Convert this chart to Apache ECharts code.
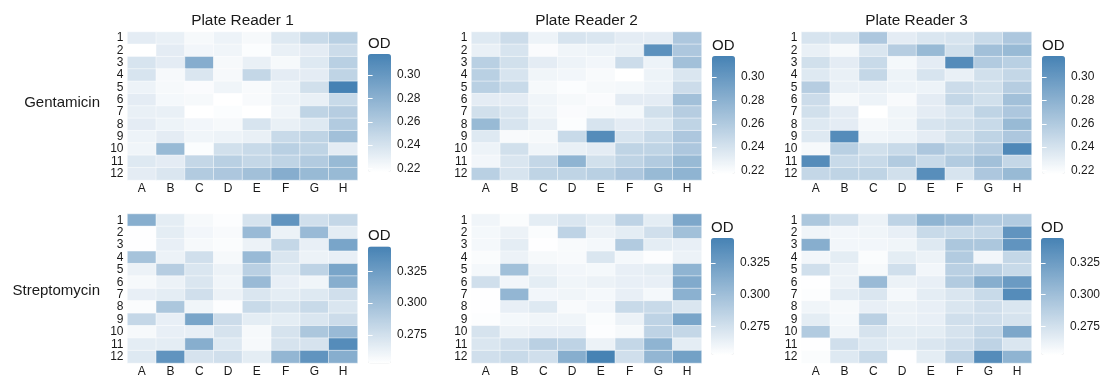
<!DOCTYPE html>
<html>
<head>
<meta charset="utf-8">
<script src="https://cdn.jsdelivr.net/npm/echarts@6/dist/echarts.min.js"></script>
<style>
  html, body { margin: 0; padding: 0; background: #ffffff; }
  #chart { width: 1103px; height: 379px; }
</style>
</head>
<body>
<div id="chart"></div>
<script>
// Plate layout
const columns = ['A', 'B', 'C', 'D', 'E', 'F', 'G', 'H'];
const rows = ['1', '2', '3', '4', '5', '6', '7', '8', '9', '10', '11', '12'];
const readers = ['Plate Reader 1', 'Plate Reader 2', 'Plate Reader 3'];
const antibiotics = ['Gentamicin', 'Streptomycin'];

// Colour-scale limits and legend ticks (OD)
const gentamicinRange = [0.217, 0.318];
const streptomycinRange = [0.2525, 0.3445];
const gentamicinTicks = [0.22, 0.24, 0.26, 0.28, 0.30];
const streptomycinTicks = [0.275, 0.300, 0.325];

// OD readings, one row per plate row (1..12), columns A..H
const gentamicinReader1 = [
  [0.232, 0.229, 0.222, 0.227, 0.222, 0.235, 0.247, 0.255],
  [0.217, 0.232, 0.224, 0.225, 0.219, 0.229, 0.232, 0.245],
  [0.239, 0.232, 0.283, 0.222, 0.229, 0.222, 0.235, 0.255],
  [0.239, 0.222, 0.237, 0.222, 0.249, 0.232, 0.232, 0.252],
  [0.227, 0.222, 0.220, 0.225, 0.221, 0.227, 0.242, 0.318],
  [0.232, 0.223, 0.222, 0.217, 0.221, 0.227, 0.229, 0.247],
  [0.229, 0.229, 0.217, 0.219, 0.217, 0.225, 0.252, 0.257],
  [0.232, 0.227, 0.224, 0.222, 0.239, 0.229, 0.235, 0.259],
  [0.227, 0.232, 0.225, 0.227, 0.229, 0.247, 0.252, 0.268],
  [0.225, 0.273, 0.219, 0.242, 0.247, 0.255, 0.252, 0.232],
  [0.235, 0.232, 0.249, 0.255, 0.249, 0.252, 0.259, 0.273],
  [0.232, 0.237, 0.259, 0.262, 0.268, 0.283, 0.273, 0.273]
];
const gentamicinReader2 = [
  [0.235, 0.245, 0.227, 0.239, 0.237, 0.232, 0.232, 0.262],
  [0.229, 0.239, 0.220, 0.225, 0.227, 0.229, 0.306, 0.262],
  [0.255, 0.242, 0.232, 0.227, 0.224, 0.245, 0.227, 0.268],
  [0.255, 0.239, 0.225, 0.224, 0.221, 0.217, 0.227, 0.237],
  [0.255, 0.247, 0.222, 0.219, 0.222, 0.223, 0.227, 0.245],
  [0.232, 0.232, 0.225, 0.222, 0.220, 0.232, 0.232, 0.268],
  [0.242, 0.237, 0.225, 0.220, 0.222, 0.223, 0.242, 0.257],
  [0.273, 0.239, 0.229, 0.219, 0.239, 0.232, 0.235, 0.252],
  [0.235, 0.221, 0.222, 0.247, 0.310, 0.239, 0.247, 0.262],
  [0.227, 0.242, 0.225, 0.229, 0.232, 0.252, 0.252, 0.262],
  [0.224, 0.237, 0.249, 0.278, 0.242, 0.252, 0.259, 0.273],
  [0.255, 0.239, 0.252, 0.252, 0.255, 0.262, 0.273, 0.278]
];
const gentamicinReader3 = [
  [0.239, 0.239, 0.262, 0.232, 0.237, 0.239, 0.247, 0.262],
  [0.229, 0.222, 0.237, 0.257, 0.273, 0.242, 0.268, 0.273],
  [0.242, 0.232, 0.247, 0.223, 0.232, 0.310, 0.259, 0.255],
  [0.235, 0.229, 0.249, 0.227, 0.239, 0.229, 0.242, 0.249],
  [0.257, 0.229, 0.229, 0.227, 0.227, 0.245, 0.242, 0.257],
  [0.245, 0.222, 0.227, 0.221, 0.232, 0.249, 0.242, 0.268],
  [0.242, 0.232, 0.217, 0.225, 0.232, 0.239, 0.252, 0.262],
  [0.235, 0.232, 0.222, 0.225, 0.239, 0.242, 0.247, 0.273],
  [0.235, 0.310, 0.225, 0.227, 0.232, 0.242, 0.252, 0.262],
  [0.222, 0.255, 0.242, 0.247, 0.262, 0.252, 0.257, 0.313],
  [0.310, 0.247, 0.247, 0.259, 0.247, 0.259, 0.268, 0.249],
  [0.249, 0.252, 0.252, 0.242, 0.308, 0.239, 0.262, 0.273]
];
const streptomycinReader1 = [
  [0.312, 0.266, 0.257, 0.254, 0.273, 0.331, 0.276, 0.282],
  [0.253, 0.266, 0.259, 0.256, 0.303, 0.262, 0.303, 0.266],
  [0.253, 0.264, 0.257, 0.255, 0.262, 0.282, 0.264, 0.319],
  [0.297, 0.262, 0.276, 0.257, 0.303, 0.271, 0.262, 0.264],
  [0.262, 0.289, 0.271, 0.262, 0.287, 0.269, 0.285, 0.319],
  [0.257, 0.262, 0.271, 0.260, 0.303, 0.264, 0.260, 0.312],
  [0.264, 0.266, 0.276, 0.262, 0.271, 0.266, 0.269, 0.276],
  [0.255, 0.294, 0.260, 0.254, 0.280, 0.273, 0.280, 0.271],
  [0.282, 0.264, 0.319, 0.278, 0.266, 0.266, 0.271, 0.278],
  [0.257, 0.264, 0.264, 0.273, 0.257, 0.273, 0.294, 0.303],
  [0.266, 0.266, 0.312, 0.269, 0.257, 0.273, 0.273, 0.337],
  [0.269, 0.331, 0.273, 0.276, 0.266, 0.306, 0.331, 0.312]
];
const streptomycinReader2 = [
  [0.260, 0.255, 0.266, 0.271, 0.266, 0.285, 0.266, 0.317],
  [0.258, 0.262, 0.255, 0.285, 0.262, 0.266, 0.276, 0.299],
  [0.258, 0.266, 0.253, 0.256, 0.258, 0.291, 0.266, 0.264],
  [0.255, 0.262, 0.257, 0.256, 0.271, 0.258, 0.254, 0.262],
  [0.258, 0.299, 0.262, 0.259, 0.258, 0.264, 0.266, 0.308],
  [0.276, 0.259, 0.266, 0.260, 0.262, 0.264, 0.264, 0.315],
  [0.253, 0.306, 0.259, 0.260, 0.258, 0.264, 0.258, 0.310],
  [0.253, 0.264, 0.269, 0.256, 0.259, 0.280, 0.280, 0.271],
  [0.254, 0.258, 0.260, 0.260, 0.255, 0.262, 0.285, 0.319],
  [0.273, 0.262, 0.264, 0.264, 0.254, 0.257, 0.285, 0.282],
  [0.271, 0.276, 0.287, 0.285, 0.262, 0.282, 0.308, 0.266],
  [0.276, 0.280, 0.276, 0.312, 0.344, 0.276, 0.306, 0.322]
];
const streptomycinReader3 = [
  [0.294, 0.276, 0.262, 0.285, 0.308, 0.303, 0.291, 0.291],
  [0.260, 0.259, 0.260, 0.264, 0.280, 0.280, 0.282, 0.331],
  [0.312, 0.259, 0.259, 0.260, 0.269, 0.294, 0.294, 0.331],
  [0.259, 0.266, 0.255, 0.266, 0.262, 0.291, 0.259, 0.282],
  [0.276, 0.262, 0.257, 0.276, 0.259, 0.287, 0.287, 0.280],
  [0.253, 0.262, 0.303, 0.262, 0.264, 0.291, 0.312, 0.326],
  [0.254, 0.266, 0.271, 0.258, 0.266, 0.271, 0.280, 0.337],
  [0.260, 0.257, 0.264, 0.262, 0.264, 0.271, 0.276, 0.271],
  [0.266, 0.258, 0.287, 0.262, 0.264, 0.276, 0.276, 0.273],
  [0.291, 0.260, 0.273, 0.266, 0.266, 0.273, 0.282, 0.317],
  [0.253, 0.276, 0.269, 0.266, 0.271, 0.276, 0.285, 0.271],
  [0.255, 0.269, 0.280, 0.253, 0.266, 0.285, 0.337, 0.308]
];

const plates = [
  [gentamicinReader1, gentamicinReader2, gentamicinReader3],
  [streptomycinReader1, streptomycinReader2, streptomycinReader3]
];

// ---- layout ----
const FONT = '"Liberation Sans", Arial, Helvetica, sans-serif';
const INK = '#1a1a1a';
const LOW = '#ffffff';
const HIGH = '#4682b4';

const panelLeft = [127.5, 471.5, 801.5];
const panelWidth = 230;
const panelTop = [32, 214];
const panelHeight = [148, 149];
const legendBox = [
  [[368, 54], [712, 56], [1042, 56]],
  [[368, 246.5], [711, 238], [1041, 238]]
];
const legendLength = [118, 117];
const legendWidth = 23;

const grid = [], xAxis = [], yAxis = [], series = [], visualMap = [], graphic = [];

antibiotics.forEach((drug, r) => {
  const range = r === 0 ? gentamicinRange : streptomycinRange;
  const ticks = r === 0 ? gentamicinTicks : streptomycinTicks;
  const digits = r === 0 ? 2 : 3;

  readers.forEach((reader, c) => {
    // heatmap panel
    const g = grid.length;
    grid.push({ left: panelLeft[c], top: panelTop[r], width: panelWidth, height: panelHeight[r] });
    xAxis.push({
      type: 'category', gridIndex: g, data: columns, position: 'bottom',
      axisLine: { show: false }, axisTick: { show: false }, splitLine: { show: false },
      axisLabel: { interval: 0, margin: 3, color: INK, fontSize: 12, fontFamily: FONT }
    });
    yAxis.push({
      type: 'category', gridIndex: g, data: rows, inverse: true,
      axisLine: { show: false }, axisTick: { show: false }, splitLine: { show: false },
      axisLabel: { interval: 0, hideOverlap: false, margin: 4, color: INK, fontSize: 12, fontFamily: FONT, lineHeight: 12 }
    });
    const cells = [];
    plates[r][c].forEach((vals, ri) => vals.forEach((v, ci) => cells.push([ci, ri, v])));
    series.push({
      type: 'heatmap', name: drug + ' / ' + reader,
      xAxisIndex: xAxis.length - 1, yAxisIndex: yAxis.length - 1,
      data: cells,
      itemStyle: { borderColor: '#ffffff', borderWidth: 0.5 },
      emphasis: { disabled: true }
    });

    // colour bar
    const [lx, ly] = legendBox[r][c];
    const len = legendLength[r];
    visualMap.push({
      type: 'continuous', seriesIndex: series.length - 1, dimension: 2,
      min: range[0], max: range[1], calculable: false, orient: 'vertical',
      left: lx, top: ly, itemWidth: legendWidth, itemHeight: len, padding: 0,
      inRange: { color: [LOW, HIGH] }, hoverLink: false
    });

    // colour bar tick labels and white tick marks
    const lg = grid.length;
    grid.push({ left: lx, top: ly, width: legendWidth, height: len });
    xAxis.push({ type: 'value', gridIndex: lg, show: false });
    yAxis.push({
      type: 'value', gridIndex: lg, position: 'right', min: range[0], max: range[1], z: 10,
      axisLine: { show: false }, splitLine: { show: false },
      axisTick: { show: true, inside: true, length: 4.6, customValues: ticks, lineStyle: { color: '#ffffff', width: 1 } },
      axisLabel: {
        customValues: ticks, formatter: v => v.toFixed(digits), margin: 6,
        color: INK, fontSize: 12, fontFamily: FONT
      }
    });
    yAxis.push({
      type: 'value', gridIndex: lg, position: 'left', min: range[0], max: range[1], z: 10,
      axisLine: { show: false }, splitLine: { show: false }, axisLabel: { show: false },
      axisTick: { show: true, inside: true, length: 4.6, customValues: ticks, lineStyle: { color: '#ffffff', width: 1 } }
    });
    graphic.push({
      type: 'text', x: lx, y: ly - 10.5,
      style: { text: 'OD', fontSize: 15, fontFamily: FONT, fill: INK,
               align: 'left', verticalAlign: 'middle', textAlign: 'left', textVerticalAlign: 'middle' }
    });

    if (r === 0) {
      graphic.push({
        type: 'text', x: panelLeft[c] + panelWidth / 2, y: 20.5,
        style: { text: reader, fontSize: 15.4, fontFamily: FONT, fill: INK,
                 align: 'center', verticalAlign: 'middle', textAlign: 'center', textVerticalAlign: 'middle' }
      });
    }
  });

  graphic.push({
    type: 'text', x: 100, y: r === 0 ? 103 : 291,
    style: { text: drug, fontSize: 15, fontFamily: FONT, fill: INK,
             align: 'right', verticalAlign: 'middle', textAlign: 'right', textVerticalAlign: 'middle' }
  });
});

const chart = echarts.init(document.getElementById('chart'), null, { renderer: 'canvas' });
chart.setOption({
  backgroundColor: '#ffffff',
  animation: false,
  grid, xAxis, yAxis, series, visualMap, graphic
});
</script>
</body>
</html>
